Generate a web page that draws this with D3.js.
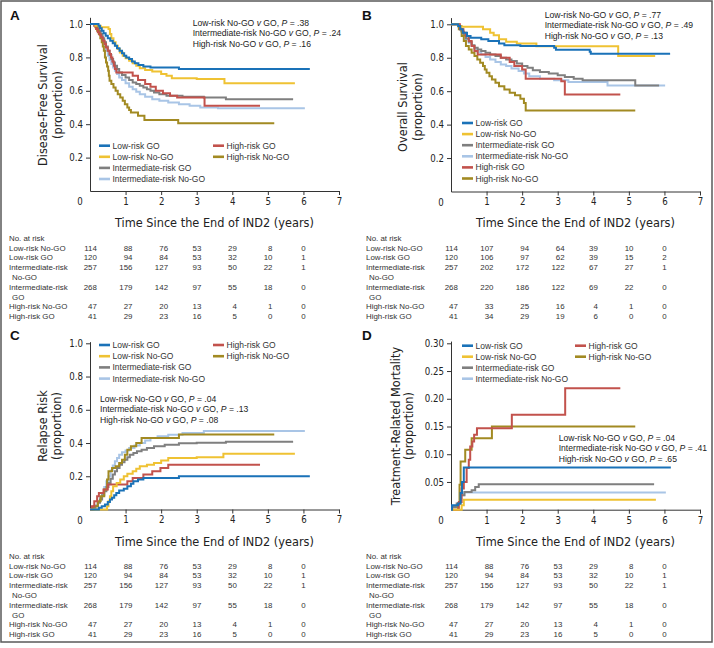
<!DOCTYPE html>
<html><head><meta charset="utf-8">
<script src="https://cdn.jsdelivr.net/npm/d3@7"></script>
<style>body{margin:0;background:#fff}svg{display:block}</style>
</head><body>
<svg id="chart" width="714" height="648"></svg>
<script>
// ---------- series definitions ----------
const seriesNames = ["Low-risk GO","Low-risk No-GO","Intermediate-risk GO","Intermediate-risk No-GO","High-risk GO","High-risk No-GO"];
const seriesColors = ["#1a72b8","#efc233","#7f7f7f","#a9c5e6","#c2524c","#a28a22"];
const drawOrder = [3,2,5,4,1,0];

// ---------- A: disease-free survival [years, proportion] ----------
const dfsLowGO = [[0,1],[0.24,0.99],[0.28,0.975],[0.33,0.96],[0.38,0.945],[0.44,0.93],[0.5,0.915],[0.57,0.9],[0.64,0.885],[0.7,0.87],[0.76,0.855],[0.83,0.84],[0.9,0.825],[0.96,0.81],[1.02,0.8],[1.1,0.79],[1.18,0.775],[1.26,0.765],[1.36,0.755],[1.5,0.745],[1.7,0.74],[2.5,0.73],[6.18,0.73]];
const dfsLowNoGO = [[0,1],[0.15,0.99],[0.3,0.98],[0.52,0.97],[0.56,0.94],[0.6,0.915],[0.66,0.89],[0.72,0.87],[0.78,0.85],[0.84,0.83],[0.92,0.81],[1.0,0.795],[1.1,0.78],[1.2,0.765],[1.3,0.75],[1.4,0.735],[1.55,0.725],[1.75,0.715],[2.0,0.7],[2.15,0.69],[2.3,0.675],[3.0,0.67],[3.78,0.645],[5.76,0.645]];
const dfsIntGO = [[0,1],[0.15,0.99],[0.2,0.98],[0.25,0.96],[0.3,0.94],[0.35,0.915],[0.4,0.89],[0.45,0.865],[0.5,0.84],[0.55,0.815],[0.6,0.79],[0.65,0.77],[0.7,0.75],[0.76,0.73],[0.82,0.71],[0.9,0.695],[1.0,0.68],[1.1,0.665],[1.2,0.65],[1.3,0.64],[1.4,0.63],[1.5,0.62],[1.6,0.61],[1.7,0.6],[1.8,0.59],[1.95,0.58],[2.15,0.57],[2.6,0.565],[3.2,0.56],[3.82,0.55],[5.71,0.55]];
const dfsIntNoGO = [[0,1],[0.12,0.99],[0.2,0.975],[0.25,0.955],[0.3,0.93],[0.35,0.9],[0.4,0.87],[0.45,0.84],[0.5,0.81],[0.55,0.785],[0.6,0.76],[0.65,0.74],[0.7,0.72],[0.76,0.7],[0.82,0.68],[0.9,0.665],[1.0,0.645],[1.1,0.625],[1.2,0.61],[1.3,0.595],[1.4,0.58],[1.55,0.565],[1.75,0.55],[1.95,0.54],[2.2,0.53],[2.5,0.52],[2.8,0.51],[3.1,0.5],[3.6,0.495],[6.04,0.495]];
const dfsHighGO = [[0,1],[0.12,0.99],[0.17,0.97],[0.22,0.95],[0.27,0.935],[0.31,0.92],[0.36,0.9],[0.41,0.88],[0.45,0.86],[0.5,0.84],[0.55,0.82],[0.59,0.8],[0.63,0.775],[0.67,0.75],[0.7,0.73],[0.74,0.71],[1.2,0.69],[1.35,0.665],[1.55,0.64],[1.7,0.625],[1.85,0.6],[2.05,0.585],[2.25,0.57],[2.45,0.56],[3.22,0.51],[4.78,0.51]];
const dfsHighNoGO = [[0,1],[0.15,0.98],[0.2,0.96],[0.25,0.94],[0.29,0.915],[0.33,0.89],[0.36,0.865],[0.39,0.84],[0.42,0.8],[0.45,0.77],[0.48,0.745],[0.51,0.72],[0.53,0.69],[0.55,0.66],[0.6,0.64],[0.66,0.62],[0.72,0.6],[0.78,0.58],[0.85,0.56],[0.92,0.54],[0.98,0.52],[1.05,0.5],[1.1,0.485],[1.15,0.47],[1.35,0.45],[1.53,0.425],[2.48,0.405],[5.18,0.405]];

// ---------- B: overall survival ----------
const osLowGO = [[0,1],[0.2,0.99],[0.26,0.97],[0.33,0.95],[0.45,0.93],[0.55,0.92],[0.85,0.91],[1.05,0.9],[1.35,0.885],[1.5,0.875],[1.95,0.87],[2.9,0.86],[2.95,0.848],[3.9,0.836],[3.93,0.824],[6.16,0.824]];
const osLowNoGO = [[0,1],[0.2,0.99],[0.3,0.985],[0.9,0.97],[1.1,0.95],[1.2,0.935],[1.35,0.91],[1.55,0.895],[1.85,0.885],[2.4,0.868],[4.7,0.81],[5.74,0.81]];
const osIntGO = [[0,1],[0.2,0.99],[0.26,0.97],[0.3,0.955],[0.36,0.935],[0.42,0.915],[0.5,0.895],[0.58,0.875],[0.66,0.86],[0.75,0.85],[0.85,0.84],[0.97,0.83],[1.1,0.82],[1.25,0.81],[1.4,0.8],[1.55,0.79],[1.7,0.78],[1.85,0.765],[2.0,0.75],[2.15,0.74],[2.3,0.725],[2.5,0.715],[2.75,0.705],[3.0,0.695],[3.2,0.685],[3.45,0.675],[3.7,0.665],[5.18,0.634],[5.85,0.634]];
const osIntNoGO = [[0,1],[0.2,0.985],[0.28,0.96],[0.35,0.935],[0.42,0.91],[0.5,0.89],[0.58,0.87],[0.66,0.85],[0.75,0.835],[0.85,0.82],[0.97,0.805],[1.1,0.79],[1.25,0.775],[1.4,0.76],[1.55,0.75],[1.7,0.735],[1.9,0.72],[2.05,0.705],[2.2,0.69],[2.5,0.675],[2.9,0.665],[3.3,0.655],[4.4,0.634],[6.02,0.634]];
const osHighGO = [[0,1],[0.25,0.97],[0.35,0.95],[0.42,0.93],[0.5,0.9],[0.58,0.87],[0.66,0.84],[0.75,0.82],[1.4,0.8],[1.65,0.775],[1.78,0.75],[2.0,0.73],[2.1,0.675],[3.1,0.66],[3.2,0.58],[4.76,0.58]];
const osHighNoGO = [[0,1],[0.22,0.97],[0.3,0.93],[0.36,0.9],[0.42,0.87],[0.5,0.85],[0.58,0.83],[0.66,0.81],[0.74,0.79],[0.82,0.77],[0.9,0.75],[0.95,0.73],[1.0,0.71],[1.08,0.69],[1.15,0.67],[1.25,0.65],[1.35,0.63],[1.5,0.61],[1.65,0.59],[1.8,0.575],[1.95,0.555],[2.05,0.53],[2.1,0.484],[5.18,0.484]];

// ---------- C: relapse risk ----------
const rrLowGO = [[0,0],[0.25,0.01],[0.33,0.02],[0.42,0.03],[0.5,0.045],[0.56,0.06],[0.62,0.07],[0.68,0.085],[0.74,0.1],[0.82,0.115],[0.95,0.125],[1.05,0.14],[1.15,0.155],[1.22,0.17],[1.35,0.18],[1.5,0.19],[2.5,0.2],[6.18,0.2]];
const rrLowNoGO = [[0,0],[0.48,0.02],[0.52,0.05],[0.56,0.08],[0.6,0.11],[0.65,0.14],[0.75,0.16],[0.85,0.18],[0.95,0.2],[1.05,0.215],[1.2,0.23],[1.3,0.245],[1.4,0.26],[1.6,0.27],[1.8,0.28],[2.0,0.295],[2.2,0.31],[3.0,0.315],[3.75,0.335],[5.76,0.335]];
const rrIntGO = [[0,0],[0.08,0.01],[0.15,0.02],[0.22,0.04],[0.28,0.06],[0.34,0.085],[0.4,0.11],[0.46,0.135],[0.52,0.16],[0.58,0.185],[0.64,0.21],[0.7,0.23],[0.76,0.25],[0.83,0.27],[0.9,0.285],[0.97,0.3],[1.05,0.315],[1.12,0.33],[1.22,0.34],[1.32,0.35],[1.45,0.36],[1.6,0.37],[1.8,0.38],[2.1,0.39],[2.5,0.398],[3.0,0.402],[3.82,0.408],[5.71,0.408]];
const rrIntNoGO = [[0,0],[0.08,0.01],[0.15,0.025],[0.22,0.045],[0.28,0.07],[0.34,0.1],[0.4,0.135],[0.46,0.17],[0.52,0.2],[0.58,0.235],[0.64,0.265],[0.7,0.29],[0.76,0.31],[0.82,0.33],[0.9,0.345],[1.0,0.355],[1.1,0.37],[1.25,0.385],[1.4,0.4],[1.55,0.415],[1.7,0.43],[1.9,0.44],[2.2,0.45],[2.6,0.46],[3.2,0.472],[6.04,0.472]];
const rrHighGO = [[0,0],[0.05,0.02],[0.12,0.05],[0.2,0.08],[0.25,0.1],[0.38,0.12],[0.5,0.15],[1.05,0.17],[1.2,0.19],[1.5,0.21],[1.75,0.23],[1.98,0.25],[2.2,0.27],[4.78,0.27]];
const rrHighNoGO = [[0,0],[0.1,0.02],[0.22,0.05],[0.3,0.08],[0.4,0.12],[0.48,0.18],[0.52,0.23],[0.62,0.25],[0.72,0.26],[0.82,0.28],[0.9,0.3],[0.98,0.33],[1.05,0.36],[1.15,0.38],[1.3,0.4],[1.45,0.43],[2.5,0.452],[5.18,0.452]];

// ---------- D: treatment-related mortality ----------
const trmLowGO = [[0,0],[0.03,0.008],[0.2,0.011],[0.27,0.03],[0.31,0.05],[0.36,0.076],[6.18,0.076]];
const trmLowNoGO = [[0,0],[0.3,0.008],[0.36,0.018],[5.76,0.018]];
const trmIntGO = [[0,0],[0.03,0.005],[0.16,0.011],[0.26,0.026],[0.38,0.032],[0.58,0.035],[0.68,0.041],[0.78,0.046],[5.71,0.046]];
const trmIntNoGO = [[0,0],[0.03,0.005],[0.2,0.011],[0.26,0.026],[0.36,0.031],[6.04,0.031]];
const trmHighGO = [[0,0],[0.22,0.014],[0.3,0.038],[0.36,0.05],[0.44,0.075],[0.5,0.09],[0.54,0.114],[0.6,0.123],[0.65,0.135],[0.73,0.147],[1.71,0.171],[3.21,0.219],[4.76,0.219]];
const trmHighNoGO = [[0,0],[0.2,0.011],[0.24,0.045],[0.27,0.087],[0.4,0.108],[0.58,0.129],[1.15,0.15],[5.18,0.15]];

// ---------- tick labels ----------
const xTickValues = [1,2,3,4,5,6,7];
const survTicks = [0.2,0.4,0.6,0.8,1.0];
const trmTicks = [0.05,0.10,0.15,0.20,0.25,0.30];

// ---------- comparisons ----------
const compLabels = ["Low-risk No-GO","Intermediate-risk No-GO","High-risk No-GO"];
const pDFS = [".38",".24",".16"];
const pOS = [".77",".49",".13"];
const pRR = [".04",".13",".08"];
const pTRM = [".04",".41",".65"];

// ---------- numbers at risk ----------
const riskLabels = ["Low-risk No-GO","Low-risk GO",["Intermediate-risk","No-GO"],["Intermediate-risk","GO"],"High-risk No-GO","High-risk GO"];
const atRiskDFS = [[114,88,76,53,29,8,0],[120,94,84,53,32,10,1],[257,156,127,93,50,22,1],[268,179,142,97,55,18,0],[47,27,20,13,4,1,0],[41,29,23,16,5,0,0]];
const atRiskOS = [[114,107,94,64,39,10,0],[120,106,97,62,39,15,2],[257,202,172,122,67,27,1],[268,220,186,122,69,22,0],[47,33,25,16,4,1,0],[41,34,29,19,6,0,0]];

// ---------- drawing ----------
const NARROW = "'DejaVu Sans Condensed','Liberation Sans Narrow',sans-serif";
const REG = "'Liberation Sans',Arial,Helvetica,sans-serif";
const svg = d3.select("#chart");

svg.append("rect").attr("x",1).attr("y",1).attr("width",711).attr("height",641)
  .attr("fill","none").attr("stroke","#5a5a5a").attr("stroke-width",1.5);

const panels = [
  {letter:"A", lx:10, ly:19.5, left:90, bottom:191, topPx:24, yMax:1.0, axisTop:1.04, ticks:survTicks, fmt:".1f",
   title:["Disease-Free Survival","(proportion)"], t1:-43, t2:-28, tcy:105,
   series:[dfsLowGO,dfsLowNoGO,dfsIntGO,dfsIntNoGO,dfsHighGO,dfsHighNoGO],
   legend:{cols:2, x1:99, x2:213, y:145.7, dy:11.1}, p:pDFS, px:192.7, py:25.5,
   risk:atRiskDFS, tabX:9, tabY:240.8, xTitleY:226.5},
  {letter:"B", lx:362, ly:20, left:451, bottom:191.5, topPx:24.3, yMax:1.0, axisTop:1.04, ticks:survTicks, fmt:".1f",
   title:["Overall Survival","(proportion)"], t1:-44, t2:-29, tcy:107,
   series:[osLowGO,osLowNoGO,osIntGO,osIntNoGO,osHighGO,osHighNoGO],
   legend:{cols:1, x1:462, y:123, dy:11.1}, p:pOS, px:544.7, py:17.5,
   risk:atRiskOS, tabX:366, tabY:240.8, xTitleY:226.5},
  {letter:"C", lx:10, ly:339.5, left:90, bottom:509.5, topPx:343.3, yMax:1.0, axisTop:1.01, ticks:survTicks, fmt:".1f",
   title:["Relapse Risk","(proportion)"], t1:-43, t2:-29, tcy:426,
   series:[rrLowGO,rrLowNoGO,rrIntGO,rrIntNoGO,rrHighGO,rrHighNoGO],
   legend:{cols:2, x1:99, x2:213, y:345, dy:11.2}, p:pRR, px:100, py:401.5,
   risk:atRiskDFS, tabX:9, tabY:558.7, xTitleY:545.5},
  {letter:"D", lx:362, ly:339.5, left:451, bottom:509.7, topPx:343.3, yMax:0.30, axisTop:0.304, ticks:trmTicks, fmt:".2f",
   title:["Treatment-Related Mortality","(proportion)"], t1:-51, t2:-38, tcy:426,
   series:[trmLowGO,trmLowNoGO,trmIntGO,trmIntNoGO,trmHighGO,trmHighNoGO],
   legend:{cols:2, x1:462, x2:575, y:345.7, dy:11}, p:pTRM, px:558.7, py:440.5,
   risk:atRiskDFS, tabX:366, tabY:558.7, xTitleY:545.5}
];

panels.forEach(cfg => {
  const g = svg.append("g");
  const x = d3.scaleLinear().domain([0,7]).range([cfg.left, cfg.left + 249]);
  const y = d3.scaleLinear().domain([0,cfg.yMax]).range([cfg.bottom, cfg.topPx]);
  const yAxisScale = y.copy().domain([0,cfg.axisTop]).range([cfg.bottom, y(cfg.axisTop)]);

  g.append("text").attr("x",cfg.lx).attr("y",cfg.ly).text(cfg.letter)
    .style("font-family",REG).style("font-weight","bold").style("font-size","13.5px").attr("fill","#111");

  const ya = g.append("g").attr("transform",`translate(${cfg.left},0)`)
    .call(d3.axisLeft(yAxisScale).tickValues(cfg.ticks).tickFormat(d3.format(cfg.fmt)).tickSize(4).tickSizeOuter(0).tickPadding(3));
  const xa = g.append("g").attr("transform",`translate(0,${cfg.bottom})`)
    .call(d3.axisBottom(x).tickValues(xTickValues).tickFormat(d3.format("d")).tickSize(4).tickSizeOuter(0).tickPadding(3));
  [ya,xa].forEach(a => {
    a.selectAll("path,line").attr("stroke","#333").attr("stroke-width",1);
    a.selectAll("text").style("font-family",NARROW).style("font-size","9.6px").attr("fill","#222");
  });
  g.append("text").attr("x",cfg.left-10).attr("y",cfg.bottom+14).attr("text-anchor","middle").text("0")
    .style("font-family",NARROW).style("font-size","9.6px").attr("fill","#222");

  const yt = g.append("text").attr("transform",`translate(0,${cfg.tcy}) rotate(-90)`).attr("text-anchor","middle")
    .style("font-family",NARROW).style("font-size","12.6px").attr("fill","#222");
  yt.append("tspan").attr("x",0).attr("y",cfg.left+cfg.t1).text(cfg.title[0]);
  yt.append("tspan").attr("x",0).attr("y",cfg.left+cfg.t2).text(cfg.title[1]);
  g.append("text").attr("x",(x(0)+x(7))/2).attr("y",cfg.xTitleY).attr("text-anchor","middle")
    .text("Time Since the End of IND2 (years)").style("font-family",NARROW).style("font-size","12.6px").attr("fill","#222");

  const line = d3.line().x(d=>x(d[0])).y(d=>y(d[1])).curve(d3.curveStepAfter);
  drawOrder.forEach(i => {
    g.append("path").datum(cfg.series[i]).attr("d",line).attr("fill","none")
      .attr("stroke",seriesColors[i]).attr("stroke-width",2).attr("stroke-linejoin","miter");
  });

  const lg = cfg.legend;
  seriesNames.forEach((name,i) => {
    let lx, ly;
    if (lg.cols === 1) { lx = lg.x1; ly = lg.y + i*lg.dy; }
    else if (i < 4) { lx = lg.x1; ly = lg.y + i*lg.dy; }
    else { lx = lg.x2; ly = lg.y + (i-4)*lg.dy; }
    g.append("line").attr("x1",lx).attr("x2",lx+11).attr("y1",ly).attr("y2",ly)
      .attr("stroke",seriesColors[i]).attr("stroke-width",2.6);
    g.append("text").attr("x",lx+13.5).attr("y",ly+3).text(name)
      .style("font-family",REG).style("font-size","8.5px").attr("fill","#333");
  });

  compLabels.forEach((c,i) => {
    const t = g.append("text").attr("x",cfg.px).attr("y",cfg.py + i*10.6)
      .style("font-family",REG).style("font-size","8.6px").attr("fill","#222");
    t.append("tspan").text(c + " ");
    t.append("tspan").style("font-style","italic").text("v");
    t.append("tspan").text(" GO, ");
    t.append("tspan").style("font-style","italic").text("P");
    t.append("tspan").text(" = " + cfg.p[i]);
  });

  const rowH = 9.8;
  const tf = (sel) => sel.style("font-family",REG).style("font-size","7.9px").attr("fill","#333");
  tf(g.append("text").attr("x",cfg.tabX).attr("y",cfg.tabY).text("No. at risk"));
  const colDigits = d3.range(7).map(j => d3.max(cfg.risk, r => String(r[j]).length));
  let ln = 1;
  riskLabels.forEach((lab,i) => {
    const yy = cfg.tabY + ln*rowH;
    if (Array.isArray(lab)) {
      tf(g.append("text").attr("x",cfg.tabX).attr("y",yy).text(lab[0]));
      tf(g.append("text").attr("x",cfg.tabX+3).attr("y",yy+rowH).text(lab[1]));
      ln += 2;
    } else {
      tf(g.append("text").attr("x",cfg.tabX).attr("y",yy).text(lab));
      ln += 1;
    }
    cfg.risk[i].forEach((v,j) => {
      tf(g.append("text").attr("x",x(j) + colDigits[j]*2.3).attr("y",yy).attr("text-anchor","end").text(v));
    });
  });
});
</script>
</body></html>
